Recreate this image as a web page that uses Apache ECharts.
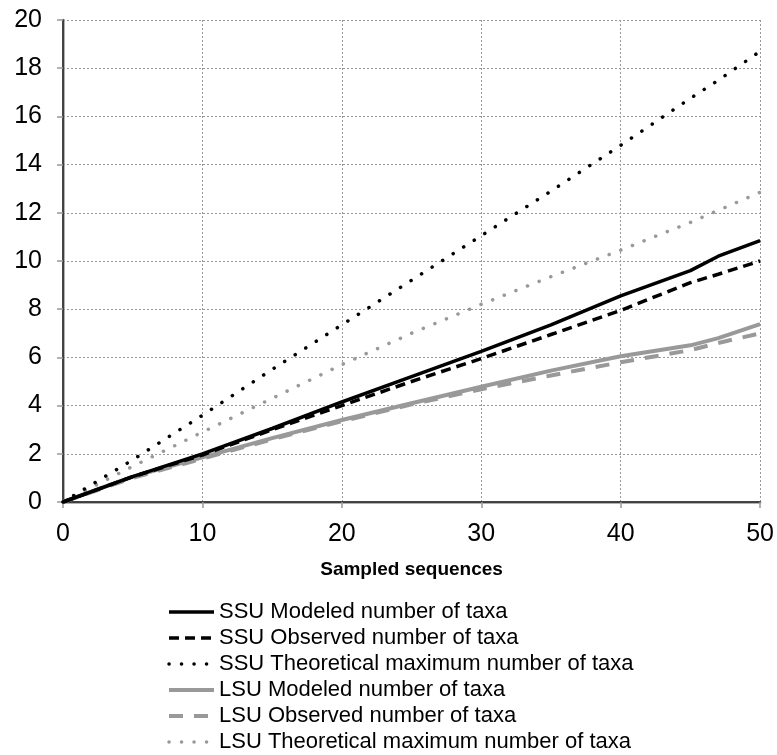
<!DOCTYPE html>
<html><head><meta charset="utf-8">
<script src="https://cdn.jsdelivr.net/npm/echarts@6/dist/echarts.min.js"></script>
<style>html,body{margin:0;padding:0;background:#fff}#c{width:777px;height:755px}</style>
</head><body><div id="c"></div>
<script>
const sampled     = [0, 5, 10, 15, 20, 25, 30, 35, 40, 45, 47, 50];
const ssuModeled  = [0, 1.05, 2.0, 3.05, 4.15, 5.2, 6.25, 7.35, 8.55, 9.6, 10.2, 10.85];
const ssuObserved = [0, 1.05, 1.95, 3.0, 4.0, 5.0, 5.95, 6.95, 7.95, 9.1, 9.45, 10.0];
const ssuTheo     = [0, 1.75, 3.6, 5.5, 7.35, 9.2, 11.05, 12.9, 14.8, 16.75, 17.5, 18.7];
const lsuModeled  = [0, 1.05, 1.85, 2.65, 3.4, 4.1, 4.78, 5.45, 6.05, 6.5, 6.8, 7.38];
const lsuObserved = [0, 1.0, 1.8, 2.6, 3.35, 4.05, 4.68, 5.25, 5.8, 6.3, 6.6, 7.0];
const lsuTheo     = [0, 1.48, 2.9, 4.3, 5.7, 7.0, 8.2, 9.35, 10.45, 11.6, 12.1, 12.85];
const seriesNames = [
  'SSU Modeled number of taxa',
  'SSU Observed number of taxa',
  'SSU Theoretical maximum number of taxa',
  'LSU Modeled number of taxa',
  'LSU Observed number of taxa',
  'LSU Theoretical maximum number of taxa'
];
const xTitle = 'Sampled sequences';

const FONT = '"Liberation Sans", Arial, Helvetica, sans-serif';
const pairs = ys => sampled.map((x, i) => [x, ys[i]]);
const styles = [
  {color:'#000', width:3.5, type:'solid'},
  {color:'#000', width:3.5, type:[10,6]},
  {color:'#000', width:3.5, type:[0.1,12.4], cap:'round'},
  {color:'#999', width:4, type:'solid'},
  {color:'#999', width:4, type:[14,11]},
  {color:'#999', width:3.5, type:[0.1,12.4], cap:'round'}
];
const allData = [ssuModeled, ssuObserved, ssuTheo, lsuModeled, lsuObserved, lsuTheo];

const chart = echarts.init(document.getElementById('c'), null, {renderer:'canvas'});
chart.setOption({
  animation: false,
  backgroundColor: '#fff',
  grid: {left:63, right:16, top:20, bottom:253, containLabel:false},
  legend: {
    orient:'vertical', left:167, top:601, padding:0,
    itemWidth:45, itemHeight:14, itemGap:4,
    itemStyle:{opacity:0},
    textStyle:{fontFamily:FONT, fontSize:22, color:'#000'},
    data: seriesNames.map((n, i) => ({
      name:n,
      lineStyle:{width:styles[i].width, type:styles[i].type, color:styles[i].color, cap:styles[i].cap || 'butt'}
    }))
  },
  xAxis: [{
    type:'value', min:0, max:50, interval:10,
    name: xTitle, nameLocation:'middle', nameGap:58,
    nameTextStyle:{fontFamily:FONT, fontSize:19, fontWeight:'bold', color:'#000'},
    axisLine:{show:true, onZero:false, lineStyle:{color:'#999', width:2.5}},
    axisTick:{show:true, length:6, lineStyle:{color:'#999', width:1.5}},
    axisLabel:{fontFamily:FONT, fontSize:25, color:'#000', margin:20},
    splitLine:{show:true, lineStyle:{color:'#999', type:[2,2], width:1}}
  },{
    type:'value', min:0, max:50, position:'top',
    axisLine:{show:true, lineStyle:{color:'#222', width:1.5}},
    axisTick:{show:false}, axisLabel:{show:false}, splitLine:{show:false}
  }],
  yAxis: [{
    type:'value', min:0, max:20, interval:2,
    axisLine:{show:true, onZero:false, lineStyle:{color:'#999', width:2.5}},
    axisTick:{show:true, length:6, lineStyle:{color:'#999', width:1.5}},
    axisLabel:{fontFamily:FONT, fontSize:25, color:'#000', margin:21},
    splitLine:{show:true, lineStyle:{color:'#999', type:[2,2], width:1}}
  },{
    type:'value', min:0, max:20, position:'right',
    axisLine:{show:true, lineStyle:{color:'#222', width:1.5}},
    axisTick:{show:false}, axisLabel:{show:false}, splitLine:{show:false}
  }],
  series: seriesNames.map((n, i) => ({
    name:n, type:'line', xAxisIndex:0, yAxisIndex:0,
    data: pairs(allData[i]), symbol:'none', smooth:false,
    z: 10 - i,
    lineStyle: Object.assign({}, styles[i]),
    itemStyle:{color:styles[i].color}
  }))
});
</script></body></html>
